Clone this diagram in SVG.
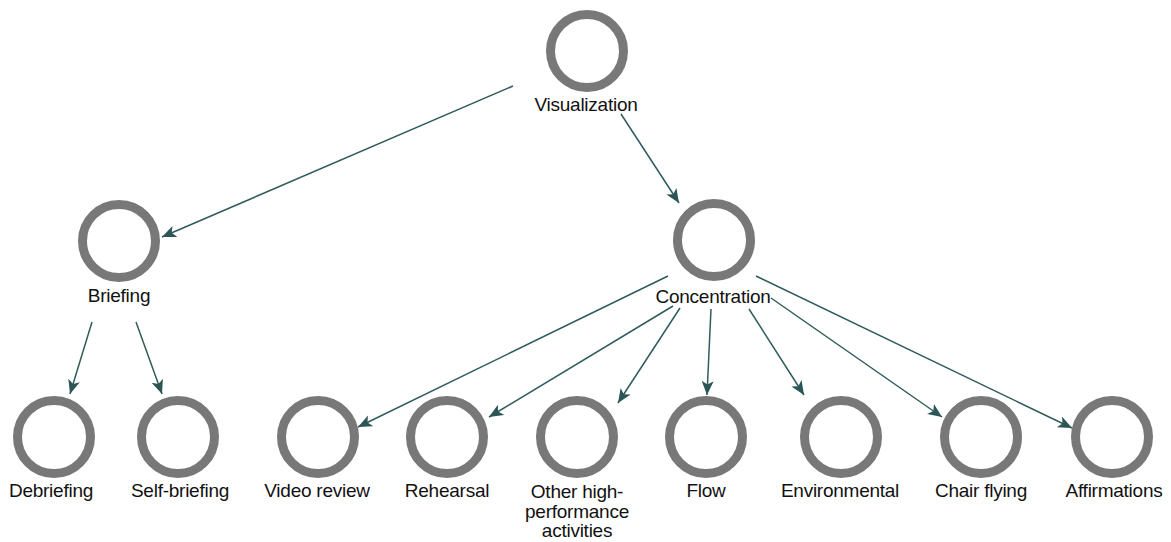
<svg xmlns="http://www.w3.org/2000/svg" width="1171" height="542" viewBox="0 0 1171 542">
  <defs>
    <marker id="arrow" markerUnits="userSpaceOnUse" markerWidth="16" markerHeight="14" refX="14" refY="6" orient="auto">
      <path d="M0,0 L14,6 L0,12 L3.5,6 Z" fill="#2c5656"/>
    </marker>
    <style>
      .ring { fill: #ffffff; stroke: #787878; stroke-width: 9; }
      .label { font-family: "Liberation Sans", Arial, sans-serif; font-size: 19px; letter-spacing: -0.25px; fill: #111111; text-anchor: middle; }
      .edge { stroke: #2f5b5b; stroke-width: 1.5; fill: none; marker-end: url(#arrow); }
    </style>
  </defs>
  <rect width="1171" height="542" fill="#ffffff"/>

  <!-- connectors -->
  <g id="connectors">
    <line class="edge" x1="513" y1="86" x2="162" y2="237"/>
    <line class="edge" x1="621" y1="114" x2="679" y2="203"/>
    <line class="edge" x1="92" y1="322" x2="70" y2="394"/>
    <line class="edge" x1="136" y1="322" x2="162" y2="394"/>
    <line class="edge" x1="668" y1="276" x2="358" y2="427"/>
    <line class="edge" x1="673" y1="306" x2="489" y2="417"/>
    <line class="edge" x1="680" y1="308" x2="618" y2="403"/>
    <line class="edge" x1="711" y1="309" x2="707" y2="395"/>
    <line class="edge" x1="749" y1="309" x2="804" y2="395"/>
    <line class="edge" x1="771" y1="298" x2="942" y2="417"/>
    <line class="edge" x1="756" y1="276" x2="1072" y2="428"/>
  </g>

  <!-- nodes -->
  <g id="node-visualization">
    <circle class="ring" cx="587" cy="51" r="36.5"/>
    <text class="label" x="586" y="111">Visualization</text>
  </g>
  <g id="node-briefing">
    <circle class="ring" cx="119" cy="241" r="36.5"/>
    <text class="label" x="119" y="302">Briefing</text>
  </g>
  <g id="node-concentration">
    <circle class="ring" cx="714" cy="240" r="36.5"/>
    <text class="label" x="713" y="303">Concentration</text>
  </g>
  <g id="node-debriefing">
    <circle class="ring" cx="54" cy="437" r="36.5"/>
    <text class="label" x="51" y="497">Debriefing</text>
  </g>
  <g id="node-self-briefing">
    <circle class="ring" cx="178" cy="437" r="36.5"/>
    <text class="label" x="180" y="497">Self-briefing</text>
  </g>
  <g id="node-video-review">
    <circle class="ring" cx="318" cy="437" r="36.5"/>
    <text class="label" x="317" y="497">Video review</text>
  </g>
  <g id="node-rehearsal">
    <circle class="ring" cx="447" cy="437" r="36.5"/>
    <text class="label" x="447" y="497">Rehearsal</text>
  </g>
  <g id="node-other">
    <circle class="ring" cx="577" cy="437" r="36.5"/>
    <text class="label" x="577" y="498">Other high-</text>
    <text class="label" x="577" y="518">performance</text>
    <text class="label" x="577" y="537">activities</text>
  </g>
  <g id="node-flow">
    <circle class="ring" cx="706" cy="437" r="36.5"/>
    <text class="label" x="706" y="497">Flow</text>
  </g>
  <g id="node-environmental">
    <circle class="ring" cx="841" cy="437" r="36.5"/>
    <text class="label" x="840" y="497">Environmental</text>
  </g>
  <g id="node-chair-flying">
    <circle class="ring" cx="981" cy="437" r="36.5"/>
    <text class="label" x="981" y="497">Chair flying</text>
  </g>
  <g id="node-affirmations">
    <circle class="ring" cx="1112" cy="437" r="36.5"/>
    <text class="label" x="1114" y="497">Affirmations</text>
  </g>
</svg>
